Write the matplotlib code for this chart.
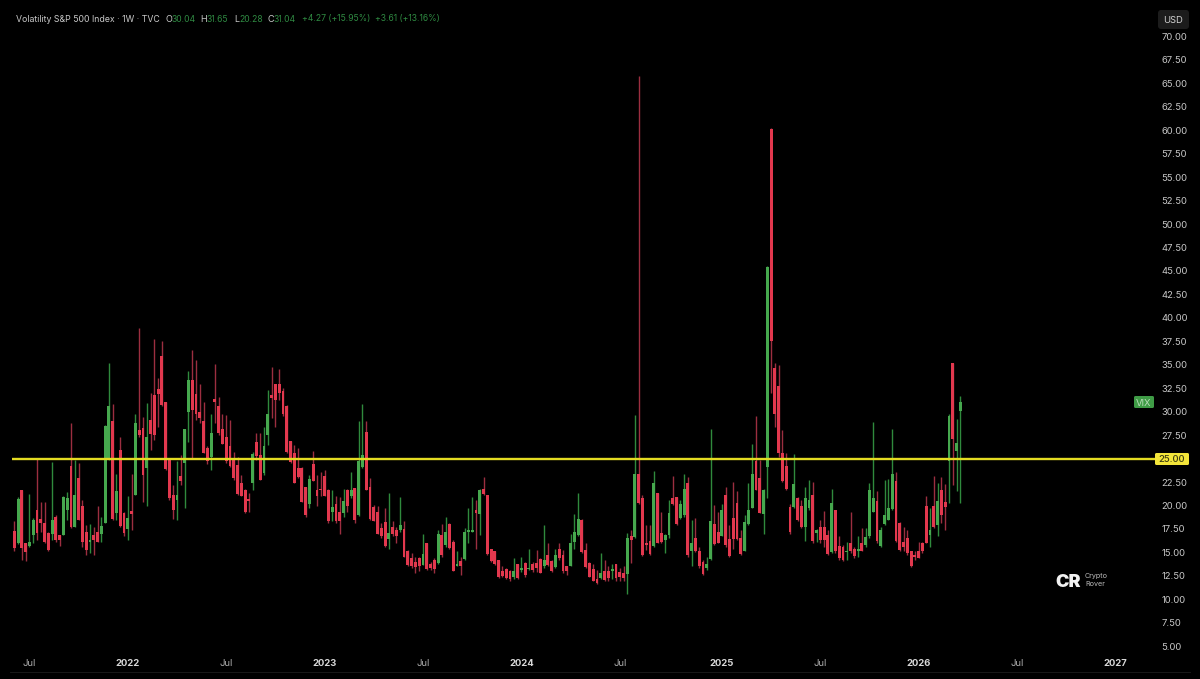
import matplotlib
matplotlib.use("Agg")
import matplotlib.pyplot as plt
import matplotlib.transforms as mtransforms
from matplotlib.lines import Line2D
from matplotlib.patches import FancyBboxPatch
import pandas as pd

plt.rcParams["font.family"] = ["Inter", "DejaVu Sans"]

# weekly candles, R = red, G = green
direction = (
    "RGRRGGRRRR" "GRRGGRGRRR" "GRRGGGRGRR" "GRGRRGRRRR" "RRRGRGGRRR"
    "RRGRRRRRRR" "RRRGRRGGRR" "RRRRRRRRGR" "RRRRGRRGRG" "RGGRRRRRRG"
    "RRGRRRRRGR" "RRGRGRRGRG" "GGRGRRRRRR" "RRGRGRGRRR" "GRRGRRRGGG"
    "RRRRRGRRGR" "RRGRGRRRRG" "RRGGRRGGRG" "RRRGGRRGRR" "RRRGGGRRGG"
    "RRRRRRGRRG" "GRGRRRGRRR" "GRRGRGGGRG" "GGGRRRRRRR" "RRGRGRRGRG" "G"
)

highs = [
    18.3, 20.9, 21.7, 16.0, 21.2, 18.7, 25.0, 20.4, 20.4, 17.2,
    24.6, 19.0, 16.9, 21.0, 21.4, 28.8, 24.8, 24.5, 20.6, 17.9,
    18.0, 17.7, 19.9, 18.8, 28.6, 35.2, 30.8, 23.4, 27.3, 19.3,
    21.0, 23.4, 29.8, 38.9, 29.4, 30.9, 32.0, 37.8, 33.6, 37.5,
    31.0, 25.1, 22.2, 24.7, 25.4, 28.2, 34.3, 36.6, 35.5, 33.0,
    31.0, 26.3, 29.7, 35.1, 31.6, 29.8, 29.6, 29.1, 25.7, 25.2,
    23.3, 21.8, 21.3, 25.7, 27.7, 27.7, 28.4, 32.3, 34.8, 33.0,
    34.5, 32.5, 30.7, 26.9, 26.5, 26.1, 24.1, 22.0, 23.3, 25.8,
    23.3, 23.6, 23.8, 21.8, 21.7, 21.0, 20.9, 21.8, 21.8, 23.6,
    21.9, 29.0, 30.8, 29.0, 22.9, 20.0, 19.9, 18.1, 19.7, 21.3,
    18.3, 17.7, 20.9, 18.3, 15.3, 14.9, 14.5, 14.5, 17.0, 16.0,
    14.0, 14.4, 17.4, 18.0, 18.8, 18.1, 16.3, 15.1, 14.5, 17.6,
    19.7, 20.9, 20.6, 21.8, 23.0, 21.1, 15.4, 15.1, 14.2, 13.6,
    13.3, 13.1, 14.4, 13.8, 14.5, 14.0, 15.4, 14.0, 15.3, 14.4,
    17.9, 16.0, 14.2, 15.4, 16.0, 15.3, 13.6, 17.0, 19.1, 21.3,
    18.6, 16.0, 14.0, 13.8, 13.1, 14.9, 14.2, 13.5, 13.8, 13.8,
    13.3, 13.6, 17.1, 17.4, 29.6, 65.8, 21.1, 17.9, 17.9, 23.7,
    21.3, 19.3, 17.0, 20.6, 23.1, 20.9, 20.6, 23.4, 23.0, 18.4,
    18.7, 15.6, 14.2, 14.5, 28.2, 20.0, 19.3, 20.2, 22.0, 17.9,
    22.5, 21.5, 17.4, 19.0, 22.4, 26.6, 29.5, 24.8, 21.8, 45.5,
    60.2, 35.2, 35.0, 28.1, 25.6, 20.2, 25.5, 20.9, 20.6, 22.0,
    22.7, 22.5, 17.5, 18.4, 19.4, 17.4, 21.8, 19.5, 16.7, 15.8,
    16.1, 19.3, 15.6, 16.7, 17.6, 17.6, 22.4, 28.9, 21.5, 17.7,
    22.7, 22.8, 28.2, 23.6, 18.2, 17.7, 17.4, 15.2, 15.2, 16.1,
    16.1, 21.0, 19.7, 23.1, 22.4, 23.0, 22.3, 29.8, 35.2, 29.2,
    31.65,
]

lows = [
    15.1, 15.9, 14.2, 14.1, 15.6, 16.0, 16.3, 17.2, 16.0, 15.2,
    16.3, 16.1, 15.7, 16.9, 18.5, 17.6, 17.7, 18.5, 15.6, 14.7,
    14.9, 14.7, 16.1, 16.1, 18.1, 24.9, 18.5, 18.5, 17.7, 16.7,
    16.3, 17.4, 21.1, 27.3, 20.4, 19.9, 25.9, 27.0, 28.4, 30.6,
    23.8, 20.6, 18.6, 18.5, 22.2, 19.7, 26.8, 25.0, 29.1, 28.8,
    25.6, 24.4, 23.8, 28.8, 27.5, 26.6, 24.5, 24.1, 22.7, 21.1,
    21.0, 19.2, 19.3, 21.7, 24.8, 22.7, 23.2, 26.5, 29.3, 28.4,
    31.2, 29.5, 25.6, 24.5, 22.4, 22.9, 20.4, 18.8, 19.7, 22.6,
    19.9, 21.0, 21.0, 18.1, 18.3, 18.1, 17.0, 18.8, 19.3, 20.8,
    18.1, 18.9, 24.0, 21.7, 18.5, 18.3, 17.0, 16.5, 15.6, 15.4,
    16.7, 16.0, 17.2, 14.5, 13.5, 13.3, 12.8, 13.0, 13.7, 13.1,
    13.1, 12.8, 13.8, 14.5, 15.6, 15.4, 13.0, 13.5, 12.6, 14.2,
    16.0, 17.2, 15.4, 16.9, 21.1, 14.7, 14.0, 13.7, 12.3, 12.4,
    12.2, 11.9, 12.2, 12.2, 12.9, 12.4, 13.1, 12.9, 12.9, 12.8,
    13.3, 13.5, 12.9, 13.3, 14.2, 12.8, 12.6, 13.5, 15.4, 16.7,
    14.9, 13.3, 12.4, 11.9, 11.6, 12.2, 12.0, 12.0, 12.2, 11.9,
    12.0, 12.0, 10.6, 13.9, 16.5, 20.2, 14.6, 15.3, 14.7, 15.6,
    16.0, 16.0, 14.9, 16.5, 20.1, 17.9, 18.6, 18.8, 14.5, 13.5,
    15.0, 13.3, 12.6, 13.1, 14.2, 15.8, 16.0, 16.7, 15.6, 14.5,
    15.4, 16.3, 14.7, 15.1, 17.9, 19.7, 21.6, 19.2, 17.0, 20.8,
    32.0, 28.4, 25.2, 22.5, 21.7, 17.0, 19.7, 18.3, 17.6, 16.2,
    19.5, 16.0, 16.1, 16.0, 15.6, 14.7, 14.9, 14.9, 14.2, 14.1,
    14.2, 14.9, 14.4, 14.5, 15.1, 15.6, 16.5, 19.3, 16.0, 15.6,
    17.9, 18.4, 19.5, 16.1, 15.2, 15.2, 14.7, 13.4, 14.2, 14.4,
    14.9, 16.0, 15.6, 17.6, 16.7, 18.1, 17.4, 20.3, 22.2, 21.5,
    20.28,
]

# body top and bottom of each candle (close/open depending on direction)
tops = [
    17.3, 20.7, 21.7, 16.0, 16.1, 18.5, 19.5, 18.6, 18.1, 17.1,
    18.5, 18.8, 16.8, 20.9, 20.8, 24.2, 21.1, 22.9, 19.9, 17.2,
    16.3, 16.9, 17.2, 17.8, 28.5, 30.6, 29.0, 21.5, 25.9, 19.2,
    18.7, 19.4, 28.8, 28.1, 28.3, 27.3, 29.1, 31.8, 32.4, 35.9,
    31.0, 24.9, 21.1, 21.1, 23.1, 28.2, 33.4, 33.4, 31.9, 30.0,
    29.0, 26.1, 27.7, 31.4, 30.6, 28.2, 27.3, 26.3, 24.8, 24.3,
    22.4, 21.7, 20.7, 25.5, 26.8, 25.4, 26.3, 29.8, 31.8, 33.0,
    32.9, 32.2, 30.6, 26.9, 25.6, 24.0, 24.0, 22.0, 22.8, 24.4,
    21.6, 21.7, 23.1, 21.7, 19.8, 20.2, 19.3, 20.5, 21.6, 21.6,
    21.9, 24.7, 25.4, 27.8, 22.0, 19.8, 19.3, 17.6, 18.2, 17.1,
    17.7, 17.4, 17.9, 17.5, 15.2, 14.4, 14.0, 14.4, 14.8, 16.0,
    13.8, 14.2, 17.0, 16.9, 17.2, 18.0, 16.1, 13.8, 14.1, 17.2,
    17.4, 17.4, 19.5, 21.7, 21.8, 21.1, 15.4, 15.1, 14.2, 13.0,
    13.2, 13.0, 13.0, 13.8, 13.3, 13.9, 13.3, 13.8, 13.9, 14.3,
    14.2, 14.7, 14.1, 14.7, 15.4, 14.7, 13.5, 16.0, 17.2, 18.6,
    18.5, 15.3, 13.9, 13.2, 12.2, 12.8, 13.0, 13.0, 13.2, 13.8,
    12.9, 12.8, 16.5, 16.7, 23.4, 23.4, 20.8, 15.9, 16.2, 22.4,
    21.3, 17.1, 16.9, 19.2, 20.8, 20.9, 20.2, 21.8, 22.4, 16.0,
    16.5, 15.2, 14.0, 13.8, 18.3, 18.0, 17.2, 19.5, 21.1, 16.4,
    18.7, 20.3, 16.5, 18.2, 19.5, 23.4, 24.7, 22.9, 21.6, 45.4,
    60.1, 34.7, 32.7, 25.6, 24.2, 19.8, 22.3, 20.8, 19.9, 20.8,
    20.6, 21.1, 17.4, 17.7, 17.7, 16.8, 20.3, 19.5, 15.7, 15.6,
    15.2, 16.0, 15.4, 15.4, 16.0, 16.6, 21.6, 20.8, 20.5, 17.4,
    19.0, 19.7, 23.4, 22.6, 18.1, 16.1, 16.5, 15.1, 14.7, 15.1,
    16.0, 19.9, 17.4, 19.9, 20.5, 21.7, 20.4, 29.5, 35.2, 26.7,
    31.04,
]

bottoms = [
    15.5, 16.0, 15.5, 15.0, 15.7, 16.8, 17.1, 18.1, 16.1, 15.3,
    17.0, 16.3, 16.3, 16.9, 19.5, 17.7, 17.7, 18.5, 16.1, 15.3,
    16.1, 16.3, 16.1, 17.0, 18.1, 25.0, 18.6, 19.2, 17.8, 17.1,
    17.5, 19.1, 21.1, 27.5, 23.2, 24.0, 27.6, 27.5, 31.9, 30.7,
    23.9, 20.8, 19.5, 20.6, 22.6, 24.5, 30.0, 30.2, 29.8, 29.3,
    25.6, 24.7, 25.2, 31.0, 27.7, 26.6, 24.7, 24.2, 22.9, 21.2,
    21.0, 19.3, 20.5, 22.4, 25.3, 22.7, 23.5, 27.5, 31.5, 31.2,
    32.0, 29.7, 25.7, 24.6, 22.4, 23.0, 20.4, 19.0, 20.2, 22.6,
    21.0, 21.6, 21.0, 18.3, 19.3, 18.3, 18.3, 19.2, 19.9, 21.0,
    18.4, 19.0, 24.1, 21.7, 18.6, 18.3, 17.0, 16.7, 15.7, 16.4,
    17.0, 16.7, 17.4, 14.5, 13.7, 13.5, 13.4, 13.5, 13.7, 13.2,
    13.3, 13.2, 13.9, 14.7, 15.8, 15.5, 13.0, 13.5, 13.6, 14.3,
    17.2, 17.2, 19.2, 19.1, 21.2, 14.8, 14.1, 13.8, 12.4, 12.5,
    12.3, 12.2, 12.4, 12.3, 13.1, 12.6, 13.2, 13.1, 13.3, 12.8,
    13.5, 13.7, 13.0, 13.4, 14.4, 13.0, 13.0, 13.5, 16.1, 16.9,
    15.0, 13.4, 12.4, 12.0, 11.7, 12.3, 12.1, 12.3, 13.0, 12.3,
    12.4, 12.3, 12.7, 16.3, 16.6, 20.3, 14.7, 15.8, 14.8, 15.7,
    16.0, 16.1, 16.3, 16.9, 20.2, 18.0, 18.7, 19.0, 14.7, 15.2,
    15.2, 13.5, 12.7, 13.3, 14.3, 15.9, 16.0, 16.7, 15.8, 14.6,
    16.4, 16.4, 14.8, 15.2, 18.0, 19.7, 21.7, 19.2, 19.1, 24.1,
    37.5, 29.7, 25.6, 22.6, 21.8, 17.2, 19.8, 18.4, 17.7, 17.7,
    19.7, 16.2, 17.1, 16.3, 16.3, 14.8, 15.0, 15.1, 14.4, 14.2,
    15.0, 15.1, 14.6, 15.1, 15.2, 15.8, 16.7, 19.3, 16.2, 15.7,
    18.0, 18.5, 19.6, 16.2, 15.3, 15.6, 14.9, 13.5, 14.5, 14.4,
    15.1, 16.0, 16.8, 17.7, 17.9, 19.0, 19.8, 24.7, 27.1, 25.8,
    30.04,
]

level = 25.0
price_ticks = [5 + 2.5 * i for i in range(27) if 5 + 2.5 * i != level]
date_ticks = ["2021-07-05", "2022-01-03", "2022-07-04", "2023-01-02", "2023-07-03", "2024-01-01",
              "2024-07-01", "2025-01-06", "2025-07-07", "2026-01-05", "2026-07-06", "2027-01-04"]
date_labels = ["Jul", "2022", "Jul", "2023", "Jul", "2024", "Jul", "2025", "Jul", "2026", "Jul", "2027"]

GREEN = "#46a84e"
RED = "#e2384e"
GREEN_WICK = "#2f8a3d"
RED_WICK = "#9c2e40"
TEXT = "#c8c8c8"
HEADER_GREEN = "#2f8a42"

dates = pd.date_range("2021-06-07", periods=len(highs), freq="7D")
body_colors = [GREEN if d == "G" else RED for d in direction]
wick_colors = [GREEN_WICK if d == "G" else RED_WICK for d in direction]
heights = [max(t - b, 0.15) for t, b in zip(tops, bottoms)]

fig = plt.figure(figsize=(12, 6.79), dpi=100, facecolor="black")
ax = fig.add_axes([0, 24 / 679, 1155 / 1200, 655 / 679], facecolor="black")

ax.vlines(dates, lows, highs, colors=wick_colors, linewidth=1.0, zorder=2)
ax.bar(dates, heights, bottom=bottoms, width=5.3, color=body_colors, linewidth=0, zorder=3)
ax.hlines(level, dates[0] - pd.Timedelta(days=4), dates[0] + pd.Timedelta(weeks=302),
          colors="#e4dc22", linewidth=1.7, zorder=4)

ax.set_xlim(dates[0] - pd.Timedelta(weeks=3.78), dates[0] + pd.Timedelta(weeks=301.45))
ax.set_ylim(4.06, 73.89)

ax.set_yticks(price_ticks)
ax.set_yticklabels([f"{p:.2f}" for p in price_ticks])
ax.yaxis.tick_right()
ax.tick_params(axis="y", length=0, pad=4.5, labelsize=6.8, labelcolor=TEXT)

ax.set_xticks(pd.to_datetime(date_ticks))
ax.set_xticklabels(date_labels)
ax.tick_params(axis="x", length=0, pad=3, labelsize=6.8, labelcolor="#b0b0b0")
for label in ax.get_xticklabels():
    if label.get_text() != "Jul":
        label.set_fontweight("bold")
        label.set_color("#d8d8d8")

for spine in ax.spines.values():
    spine.set_visible(False)

# overlay items are placed in image pixels, origin top left
pix = mtransforms.Affine2D().scale(1 / 1200, -1 / 679).translate(0, 1) + fig.transFigure

header = [
    (16, "Volatility S&P 500 Index · 1W · TVC", TEXT, 6.3), (165, "O", TEXT, 6.5), (171.5, "30.04", HEADER_GREEN, 6.2),
    (200, "H", TEXT, 6.5), (206.5, "31.65", HEADER_GREEN, 6.2), (234, "L", TEXT, 6.5), (239.5, "20.28", HEADER_GREEN, 6.2),
    (268, "C", TEXT, 6.5), (273.5, "31.04", HEADER_GREEN, 6.2), (302, "+4.27 (+15.95%)", HEADER_GREEN, 6.2),
    (375, "+3.61 (+13.16%)", HEADER_GREEN, 6.2),
]
for x, text, color, size in header:
    fig.text(x, 19, text, transform=pix, color=color, fontsize=size, va="center", ha="left")


def tag(x0, y0, x1, y1, color, text, text_color, radius=1.5, weight="normal"):
    box = FancyBboxPatch((x0 + radius, y0 + radius), x1 - x0 - 2 * radius, y1 - y0 - 2 * radius,
                         boxstyle=f"round,pad={radius},rounding_size={radius}",
                         transform=pix, facecolor=color, edgecolor="none")
    fig.add_artist(box)
    fig.text((x0 + x1) / 2, (y0 + y1) / 2, text, transform=pix, color=text_color,
             fontsize=6.8, ha="center", va="center_baseline", fontweight=weight)


tag(1158, 10, 1189, 29, "#1c1c1c", "USD", "#d0d0d0", radius=3)
tag(1134, 396, 1154, 408, "#3f9c46", "VIX", "#b9dcb9")
tag(1155, 453, 1189, 465, "#f3e53a", "25.00", "#3a3a10", weight="medium")

fig.add_artist(Line2D([10, 1190], [672, 672], transform=pix, color="#191919", linewidth=0.7))

# watermark
fig.text(1068, 580.5, "CR", transform=pix, color="#f2f2f2", fontsize=13, fontweight="black",
         ha="center", va="center_baseline")
fig.text(1085, 576, "Crypto", transform=pix, color="#b8b8b8", fontsize=5.2, va="center")
fig.text(1085, 584, "Rover", transform=pix, color="#b8b8b8", fontsize=5.2, va="center")

fig.savefig("out.png", dpi=100, facecolor="black")
